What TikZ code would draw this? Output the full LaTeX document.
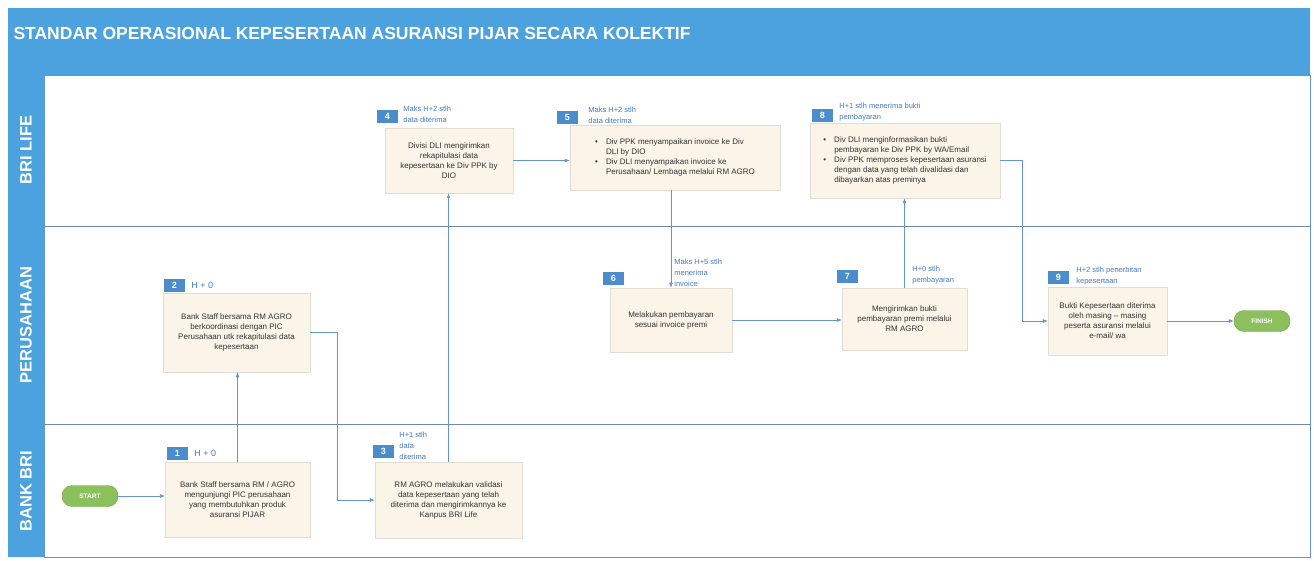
\documentclass[tikz,border=0pt]{standalone}
\usepackage{fontspec}
\setmainfont{Liberation Sans}
\usepackage{xcolor}
\usepackage{tikz}
\usetikzlibrary{arrows.meta}
\usetikzlibrary{positioning}

\definecolor{birujudul}{RGB}{76,162,222}
\definecolor{birualur}{RGB}{98,150,205}
\definecolor{birulabel}{RGB}{70,120,200}
\definecolor{birunomor}{RGB}{74,140,204}
\definecolor{garisjalur}{RGB}{110,135,170}
\definecolor{kotakisi}{RGB}{251,245,233}
\definecolor{kotakgaris}{RGB}{226,221,210}
\definecolor{teksgelap}{RGB}{50,50,50}
\definecolor{hijau}{RGB}{140,192,92}

\newcommand{\butir}{\makebox[11pt][l]{\textbullet}}
\newcommand{\lanjut}{\hspace*{11pt}}

\begin{document}
\begin{tikzpicture}[
    x=1pt, y=-1pt,
    >={Latex[length=5pt,width=4pt]},
    langkah/.style={draw=kotakgaris, fill=kotakisi, line width=0.5pt, align=center,
        text=teksgelap, font=\fontsize{8}{10}\selectfont, inner sep=2pt},
    nomor/.style={fill=birunomor, text=white, font=\fontsize{9}{9}\selectfont\bfseries,
        minimum width=21pt, minimum height=13pt, inner sep=0pt},
    waktu/.style={text=birulabel, font=\fontsize{7.5}{11}\selectfont, align=left, inner sep=0pt},
    alur/.style={->, draw=birualur, line width=0.6pt},
    ujung/.style={fill=hijau, draw=hijau!85!black, rounded corners=10pt, text=white,
        font=\fontsize{6.5}{6.5}\selectfont\bfseries, minimum width=56pt, minimum height=21pt},
    jalur/.style={text=white, font=\fontsize{16.5}{16.5}\selectfont\bfseries, rotate=90}
]
    \useasboundingbox (0,0) rectangle (1314,561);

    % Kerangka dan judul
    \fill[birujudul] (8,8) rectangle (1310,75);
    \fill[birujudul] (8,75) rectangle (44,557);
    \draw[birualur, line width=0.6pt] (44,75) rectangle (1310,557);
    \node[anchor=west, text=white, font=\fontsize{17.5}{17.5}\selectfont\bfseries] (judul) at (10,33)
        {STANDAR OPERASIONAL KEPESERTAAN ASURANSI PIJAR SECARA KOLEKTIF};

    % Jalur
    \draw[garisjalur, line width=0.7pt] (44,226) -- (1310,226);
    \draw[garisjalur, line width=0.7pt] (44,424) -- (1310,424);
    \node[jalur] (jlife) at (26,150) {BRI LIFE};
    \node[jalur] (jpers) at (26,325) {PERUSAHAAN};
    \node[jalur] (jbank) at (26,491) {BANK BRI};

    % Langkah-langkah
    \node[langkah, minimum width=145pt, minimum height=75pt] (b1) at (237.5,499.5)
        {Bank Staff bersama RM / AGRO\\mengunjungi PIC perusahaan\\yang membutuhkan produk\\asuransi PIJAR};
    \node[langkah, minimum width=147pt, minimum height=79pt] (b2) at (236.5,332.5)
        {Bank Staff bersama RM AGRO\\berkoordinasi dengan PIC\\Perusahaan utk rekapitulasi data\\kepesertaan};
    \node[langkah, minimum width=147pt, minimum height=76pt] (b3) at (448.5,500)
        {RM AGRO melakukan validasi\\data kepesertaan yang telah\\diterima dan mengirimkannya ke\\Kanpus BRI Life};
    \node[langkah, minimum width=128pt, minimum height=65pt] (b4) at (449,160.5)
        {Divisi DLI mengirimkan\\rekapitulasi data\\kepesertaan ke Div PPK by\\DIO};
    \node[langkah, minimum width=210pt, minimum height=65pt, align=left] (b5) at (675,157.5)
        {\butir Div PPK menyampaikan invoice ke Div\\\lanjut DLI by DIO\\
         \butir Div DLI menyampaikan invoice ke\\\lanjut Perusahaan/ Lembaga melalui RM AGRO};
    \node[langkah, minimum width=122pt, minimum height=64pt] (b6) at (671,320)
        {Melakukan pembayaran\\sesuai invoice premi};
    \node[langkah, minimum width=125pt, minimum height=62pt] (b7) at (904.5,319)
        {Mengirimkan bukti\\pembayaran premi melalui\\RM AGRO};
    \node[langkah, minimum width=190pt, minimum height=75pt, align=left] (b8) at (905,160.5)
        {\butir Div DLI menginformasikan bukti\\\lanjut pembayaran ke Div PPK by WA/Email\\
         \butir Div PPK memproses kepesertaan asuransi\\\lanjut dengan data yang telah divalidasi dan\\
         \lanjut dibayarkan atas preminya};
    \node[langkah, minimum width=119pt, minimum height=68pt] (b9) at (1107.5,321)
        {Bukti Kepesertaan diterima\\oleh masing -- masing\\peserta asuransi melalui\\e-mail/ wa};

    % Nomor langkah
    \node[nomor, above right=2pt and 2pt of b1.north west] (n1) {1};
    \node[nomor, above right=1pt and 1pt of b2.north west] (n2) {2};
    \node[nomor, above right=4pt and -2pt of b3.north west] (n3) {3};
    \node[nomor, above right=5pt and -8pt of b4.north west] (n4) {4};
    \node[nomor, above right=1pt and -13pt of b5.north west] (n5) {5};
    \node[nomor, above right=1pt and 2pt of b8.north west] (n8) {8};
    \node[nomor, above right=3pt and -7pt of b6.north west] (n6) {6};
    \node[nomor, above right=5pt and -5pt of b7.north west] (n7) {7};
    \node[nomor, above right=3pt and 0pt of b9.north west] (n9) {9};

    % Keterangan waktu
    \node[waktu, font=\fontsize{9}{9}\selectfont, right=6pt of n1] (w1) {H + 0};
    \node[waktu, font=\fontsize{9}{9}\selectfont, right=6pt of n2] (w2) {H + 0};
    \node[waktu, above right=-2pt and 5pt of n3.south east] (w3) {H+1 stlh\\data\\diterima};
    \node[waktu, above right=0pt and 5pt of n4.south east] (w4) {Maks H+2 stlh\\data diterima};
    \node[waktu, above right=0pt and 10pt of n5.south east] (w5) {Maks H+2 stlh\\data diterima};
    \node[waktu, above right=-2pt and 50pt of n6.south east] (w6) {Maks H+5 stlh\\menerima\\invoice};
    \node[waktu, above right=-2pt and 54pt of n7.south east] (w7) {H+0 stlh\\pembayaran};
    \node[waktu, above right=0pt and 6pt of n8.south east] (w8) {H+1 stlh menerima bukti\\pembayaran};
    \node[waktu, above right=-2pt and 7pt of n9.south east] (w9) {H+2 stlh penerbitan\\kepesertaan};

    % Mulai dan selesai
    \node[ujung] (mulai) at (90,496) {START};
    \node[ujung] (selesai) at (1262,321) {FINISH};

    % Alur
    \draw[alur] (mulai.east) -- (mulai.east -| b1.west);
    \draw[alur] (b1.north) -- (b1.north |- b2.south);
    \draw[alur] (b2.east) -- ++(27,0) |- (b3.west);
    \draw[alur] (b3.north) -- (b3.north |- b4.south);
    \draw[alur] (b4.east) -- (b4.east -| b5.west);
    \draw[alur] (b6.north |- b5.south) -- (b6.north);
    \draw[alur] (b6.east) -- (b6.east -| b7.west);
    \draw[alur] (b7.north) -- (b7.north |- b8.south);
    \draw[alur] (b8.east) -- ++(22,0) |- (b9.west);
    \draw[alur] (b9.east) -- (b9.east -| selesai.west);

\end{tikzpicture}
\end{document}
